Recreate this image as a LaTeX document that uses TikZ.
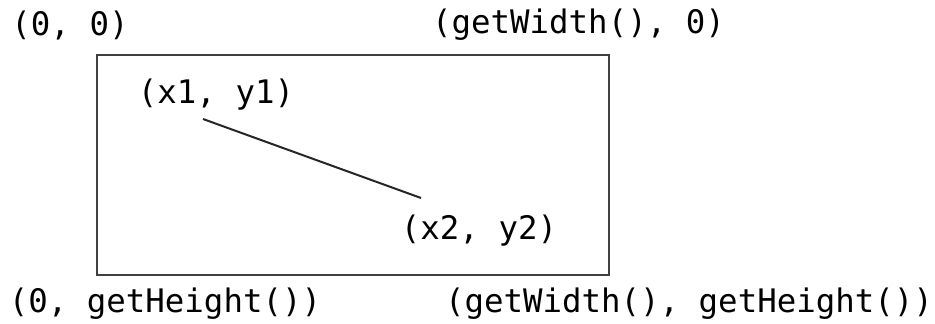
\documentclass[tikz,border=0pt]{standalone}
\usepackage{fontspec}
\usepackage{tikz}
\usetikzlibrary{positioning}
\newfontfamily\codefont{DejaVu Sans Mono}

\begin{document}
\begin{tikzpicture}[
  x=0.5pt, y=-0.5pt,
  every node/.style={font=\codefont\fontsize{16.2}{19}\selectfont, inner sep=0pt},
  frame/.style={draw=black!75, line width=1pt},
  seg/.style={draw=black!85, line width=1pt}
]
  \useasboundingbox (0,0) rectangle (935,324);
  % window outline
  \draw[frame] (97,55) rectangle (609,275);
  % corner labels
  \node (tl) at (70,25) {(0, 0)};
  \node (tr) at (578.5,25) {(getWidth(), 0)};
  \node (bl) at (165,304) {(0, getHeight())};
  \node (br) at (689,304) {(getWidth(), getHeight())};
  % the line and its end points
  \node (lab1) at (216,95) {(x1, y1)};
  \node (lab2) at (479,231) {(x2, y2)};
  \coordinate (p1) at (203,119);
  \coordinate (p2) at (421,198);
  \draw[seg] (p1) -- (p2);
\end{tikzpicture}
\end{document}
